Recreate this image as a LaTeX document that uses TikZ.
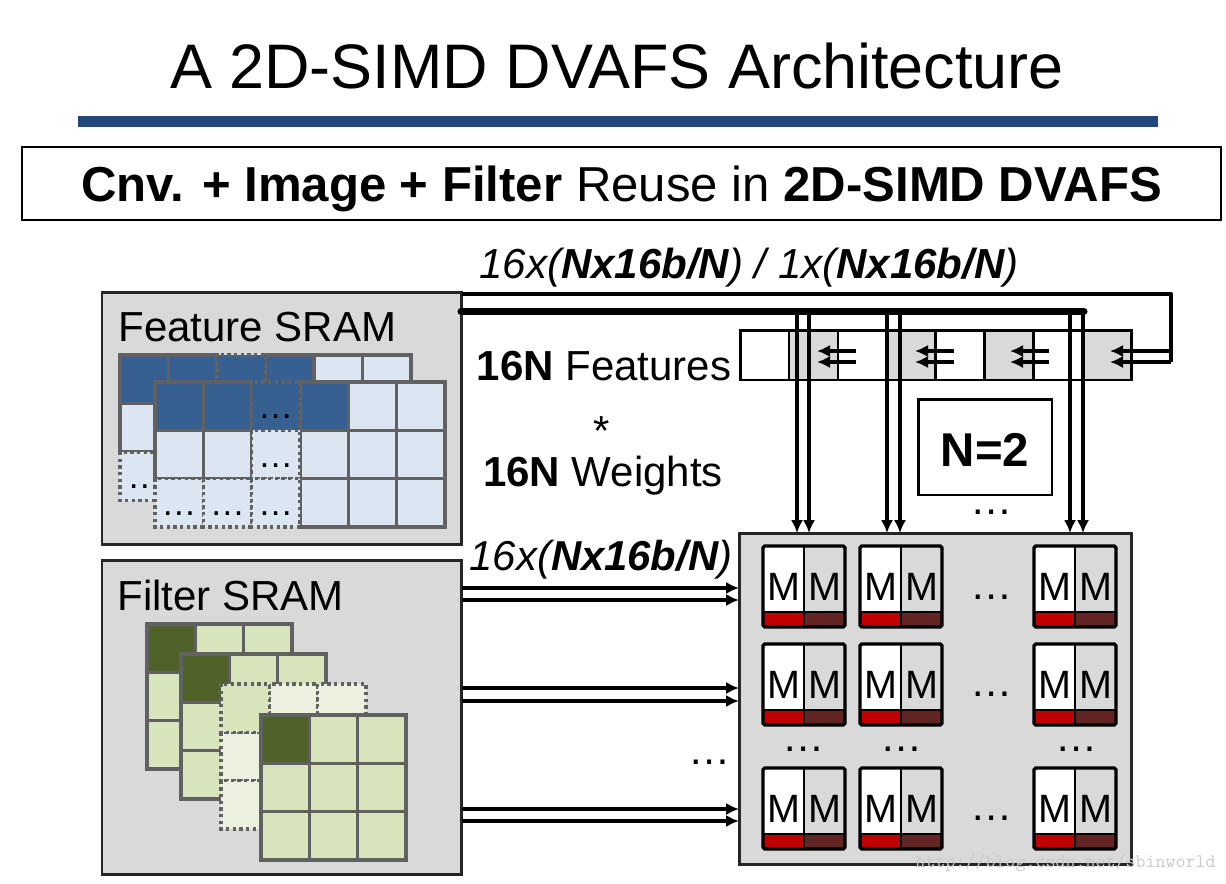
\documentclass[tikz,border=0pt]{standalone}
\usepackage{fontspec}
\setmainfont{Liberation Sans}
\usetikzlibrary{arrows.meta, positioning}

\begin{document}
\begin{tikzpicture}[
    x=0.02cm, y=-0.02cm,
    >={Latex[length=7.4pt,width=7pt]},
    panel/.style={rectangle, draw=black!85, fill=black!15, line width=1.7pt, outer sep=0pt,
                  minimum width=7.2cm, anchor=north west},
    label/.style={inner sep=0pt, anchor=center},
    bigtext/.style={label, font=\fontsize{23.9}{27}\selectfont},
    dotstext/.style={label, font=\fontsize{20}{24}\selectfont},
    cellbase/.style={draw=black!62, line width=1.9pt},
    dotted cell/.style={cellbase, line width=1.9pt, dash pattern=on 1.9pt off 1.9pt},
    regcell/.style={rectangle, draw=black, line width=1.7pt, outer sep=0pt, inner sep=0pt,
                    minimum width=0.98cm, minimum height=1cm},
    unitcell/.style={rectangle, inner sep=0pt, outer sep=0pt, anchor=north west,
                     minimum width=0.82cm, minimum height=1.32cm,
                     text height=24pt, text depth=0pt,
                     font=\fontsize{22.5}{25}\selectfont},
    unitbar/.style={rectangle, inner sep=0pt, outer sep=0pt, anchor=north west,
                    minimum width=0.82cm, minimum height=0.3cm},
    bus/.style={draw=black, line width=2pt},
    busarrow/.style={bus, ->}
]
\definecolor{ruleblue}{HTML}{1F497D}
\definecolor{featdark}{HTML}{376092}
\definecolor{featlight}{HTML}{DCE6F2}
\definecolor{filtdark}{HTML}{4F6228}
\definecolor{filtlight}{HTML}{D7E4BC}
\definecolor{filtpale}{HTML}{EBF1DE}
\definecolor{redbar}{HTML}{C00000}
\definecolor{brownbar}{HTML}{632523}
\useasboundingbox (0,0) rectangle (1226,883);

% Titel
\node[label, font=\fontsize{35.8}{40}\selectfont] (title) at (617,66) {A 2D-SIMD DVAFS Architecture};
\fill[ruleblue] (78,116) rectangle (1158,127);
\node[rectangle, draw=black, line width=1.5pt, minimum width=23.98cm, minimum height=1.46cm] (banner) at (621.5,183.5) {};
\node[label, font=\fontsize{27.95}{32}\selectfont] (bannertxt) at (621.5,189)
      {\textbf{Cnv. + Image + Filter} Reuse in \textbf{2D-SIMD DVAFS}};

% SRAM blokken
\node[panel, minimum height=5.06cm] (feature) at (102,292) {};
\node[panel, minimum height=6.28cm, below=0.32cm of feature] (filter) {};
\node[bigtext, anchor=west] (featuretxt) at (118,327) {Feature SRAM};
\node[bigtext, anchor=west] (filtertxt) at (117,595) {Filter SRAM};

% Feature lagen
\foreach \c/\r/\col/\sty in {0/0/featdark/cellbase, 1/0/featdark/cellbase, 3/0/featdark/cellbase,
                             4/0/featlight/cellbase, 5/0/featlight/cellbase,
                             0/1/featlight/cellbase, 2/0/featdark/dotted cell, 0/2/featlight/dotted cell}
    \filldraw[\sty, fill=\col] (120+48.5*\c,355+48.5*\r) rectangle ++(48.5,48.5);
\node[dotstext] (backdots) at (145,487) {…};
\foreach \c/\r/\col in {0/0/featdark, 1/0/featdark, 3/0/featdark, 4/0/featlight, 5/0/featlight,
                        0/1/featlight, 1/1/featlight, 3/1/featlight, 4/1/featlight, 5/1/featlight,
                        3/2/featlight, 4/2/featlight, 5/2/featlight}
    \filldraw[cellbase, fill=\col] (155+48.33*\c,382+48.33*\r) rectangle ++(48.33,48.33);
\foreach \c/\r/\col in {2/0/featdark, 2/1/featlight, 0/2/featlight, 1/2/featlight, 2/2/featlight} {
    \filldraw[dotted cell, fill=\col] (155+48.33*\c,382+48.33*\r) rectangle ++(48.33,48.33);
    \node[dotstext] at (179+48.33*\c,417+48.33*\r) {…};
}

% Filter lagen
\foreach \gx/\gy in {147/624, 181/654}
    \foreach \c in {0,1,2}
        \foreach \r in {0,1,2}
            \filldraw[cellbase, fill=filtlight] (\gx+48.3*\c,\gy+48.3*\r) rectangle ++(48.3,48.3);
\foreach \gx/\gy in {147/624, 181/654}
    \filldraw[cellbase, fill=filtdark] (\gx,\gy) rectangle ++(48.3,48.3);
\foreach \c in {0,1,2}
    \foreach \r in {0,1,2}
        \filldraw[dotted cell, fill=filtpale] (221+48.3*\c,684+48.3*\r) rectangle ++(48.3,48.3);
\filldraw[dotted cell, fill=filtlight] (221,684) rectangle ++(48.3,48.3);
\foreach \c in {0,1,2}
    \foreach \r in {0,1,2}
        \filldraw[cellbase, fill=filtlight] (261+48.3*\c,715+48.3*\r) rectangle ++(48.3,48.3);
\filldraw[cellbase, fill=filtdark] (261,715) rectangle ++(48.3,48.3);

% Register
\node[regcell, fill=white, anchor=north west] (reg0) at (740,330) {};
\foreach \i/\j/\col in {1/0/black!15, 2/1/white, 3/2/black!15, 4/3/white, 5/4/black!15, 6/5/white, 7/6/black!15}
    \node[regcell, fill=\col, right=0pt of reg\j] (reg\i) {};

% PE matrix
\node[panel, minimum width=7.86cm, minimum height=6.64cm] (pe) at (739,533) {};
\foreach \r/\y in {1/546, 2/644, 3/768}
    \foreach \c/\x in {1/763, 2/860, 3/1034} {
        \node[unitcell, fill=white] (ml\r\c) at (\x,\y) {M};
        \node[unitcell, fill=black!15, right=0pt of ml\r\c] (mr\r\c) {M};
        \node[unitbar, fill=redbar, below=0pt of ml\r\c] (bl\r\c) {};
        \node[unitbar, fill=brownbar, below=0pt of mr\r\c] (br\r\c) {};
        \draw[black, line width=0.9pt] (ml\r\c.north east) -- (bl\r\c.north east);
        \draw[black, line width=1.7pt] (ml\r\c.south west) -- (mr\r\c.south east);
        \draw[black, line width=1.2pt] (bl\r\c.north east) -- (bl\r\c.south east);
        \draw[black, line width=1.9pt, rounded corners=1pt] (ml\r\c.north west) rectangle (br\r\c.south east);
    }

% Bussen
\coordinate (thintop) at (1171,294);
\coordinate (thinend) at (1171,362);
\draw[bus, line width=2.5pt, line join=round] (feature.north east |- thintop) -- (thintop) -- (thinend);
\coordinate (thickstart) at (461,311.5);
\coordinate (thickend) at (1084,311.5);
\draw[line width=4pt, line cap=round] (thickstart) -- (thickend);
\foreach \i/\x in {1/797, 2/809, 3/887, 4/900, 5/1070, 6/1083} {
    \coordinate (tap\i) at (\x,311.5);
    \draw[busarrow] (tap\i) -- (tap\i |- pe.north);
}

% Pijltjes in register
\foreach \s/\t in {856/817, 954/915, 1049/1010, 1171/1110} {
    \coordinate (sa) at (\s,351); \coordinate (ta) at (\t,351);
    \coordinate (sb) at (\s,362); \coordinate (tb) at (\t,362);
    \draw[busarrow] (sa) -- (ta);
    \draw[busarrow] (sb) -- (tb);
}

% Filter naar PE
\foreach \y in {588, 600, 688, 701, 809, 821}
    \draw[busarrow] (filter.east |- 0,\y) -- (pe.west |- 0,\y);

% Tekst
\node[bigtext, font=\fontsize{23.9}{27}\selectfont\itshape] (toplbl) at (749,268)
      {16x(\textbf{Nx16b/N}) / 1x(\textbf{Nx16b/N})};
\node[bigtext] (featlbl) at (604,366) {\textbf{16N} Features};
\node[bigtext] (star) at (602,431) {*};
\node[bigtext] (weightlbl) at (603,476) {\textbf{16N} Weights};
\node[bigtext, font=\fontsize{23.8}{27}\selectfont\itshape] (filtlbl) at (601,560)
      {16x(\textbf{Nx16b/N})};
\node[rectangle, draw=black, fill=white, line width=1.7pt, minimum width=2.68cm, minimum height=1.92cm] (nbox) at (985,447) {};
\node[label, font=\fontsize{27}{30}\selectfont\bfseries] (nlbl) at (985,450) {N=2};

% Puntjes
\foreach \x/\y in {992/512, 992/597, 992/694, 992/818, 804/749, 902/749, 1077/749, 710/762}
    \node[label, font=\fontsize{24}{28}\selectfont] at (\x,\y) {…};

% Watermerk
\node[label, anchor=east, text=black!20, font=\ttfamily\fontsize{10.85}{12}\selectfont] (mark) at (1216,863)
      {http://blog.csdn.net/sbinworld};
\end{tikzpicture}
\end{document}
